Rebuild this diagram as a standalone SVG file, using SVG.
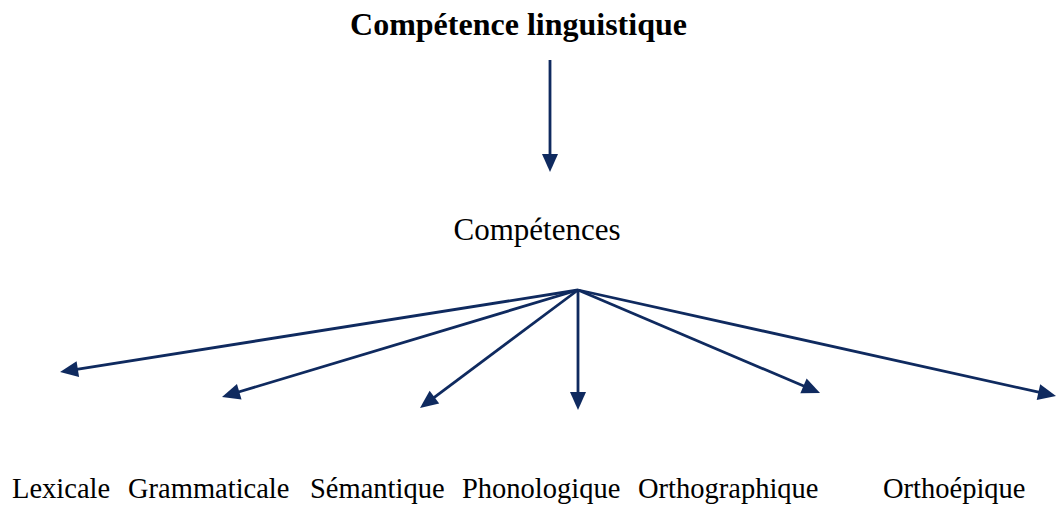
<svg xmlns="http://www.w3.org/2000/svg" width="1059" height="511" viewBox="0 0 1059 511">
  <style>
    .t { font-family: "Liberation Serif", "Times New Roman", serif; fill: #000; }
    .title { font-size: 32px; font-weight: bold; }
    .mid { font-size: 31px; }
    .leaf { font-size: 28.5px; }
    .conn line { stroke: #0f2a5f; stroke-width: 2.8; fill: none; marker-end: url(#ah); }
  </style>
  <defs>
    <marker id="ah" markerUnits="userSpaceOnUse" markerWidth="19" markerHeight="17" refX="6" refY="8" orient="auto" overflow="visible">
      <path d="M0,0 L18,8 L0,16 Z" fill="#0f2a5f"/>
    </marker>
  </defs>
  <rect width="1059" height="511" fill="#fff"/>

  <g id="node-competence-linguistique">
    <text class="t title" x="518.5" y="35" text-anchor="middle">Compétence linguistique</text>
  </g>
  <g id="node-competences">
    <text class="t mid" x="537" y="240" text-anchor="middle">Compétences</text>
  </g>
  <g id="node-lexicale"><text class="t leaf" x="12" y="498">Lexicale</text></g>
  <g id="node-grammaticale"><text class="t leaf" x="128" y="498">Grammaticale</text></g>
  <g id="node-semantique"><text class="t leaf" x="310" y="498">Sémantique</text></g>
  <g id="node-phonologique"><text class="t leaf" x="462" y="498">Phonologique</text></g>
  <g id="node-orthographique"><text class="t leaf" x="638" y="498">Orthographique</text></g>
  <g id="node-orthoepique"><text class="t leaf" x="883" y="498">Orthoépique</text></g>

  <g id="connectors" class="conn">
    <line x1="550" y1="60" x2="550" y2="160"/>
    <line x1="578" y1="290" x2="71.9" y2="370.1"/>
    <line x1="578" y1="290" x2="233.5" y2="393.5"/>
    <line x1="578" y1="290" x2="429.6" y2="400.8"/>
    <line x1="578" y1="290" x2="578" y2="398"/>
    <line x1="578" y1="290" x2="809.0" y2="388.3"/>
    <line x1="578" y1="290" x2="1044.3" y2="393.4"/>
  </g>
</svg>
